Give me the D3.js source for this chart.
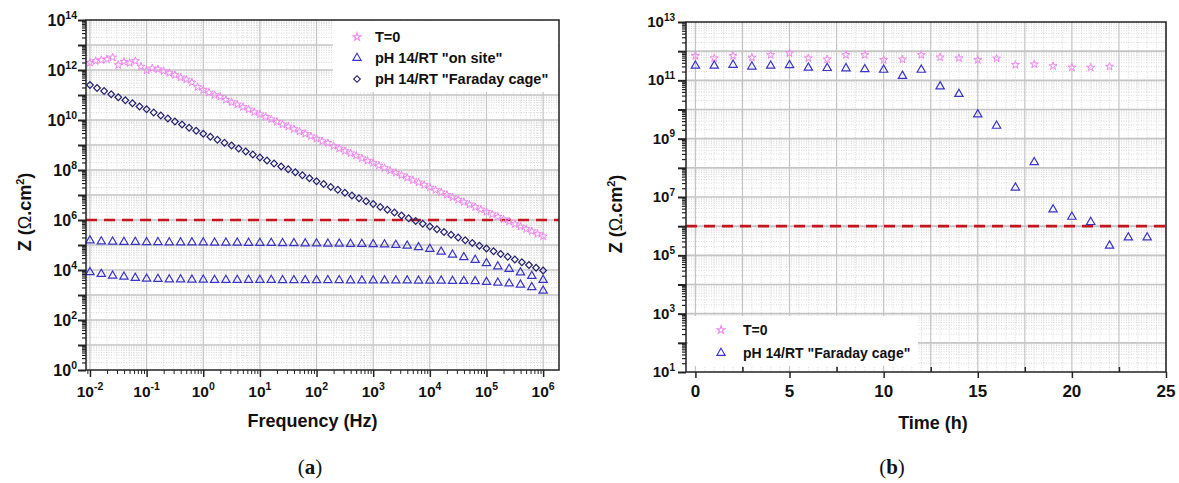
<!DOCTYPE html>
<html><head><meta charset="utf-8">
<script src="https://cdn.jsdelivr.net/npm/d3@7"></script>
<style>
html,body{margin:0;padding:0;background:#fff;}
svg{display:block;}
text{font-family:"Liberation Sans",Arial,sans-serif;font-weight:bold;fill:#111;}
</style></head>
<body>
<svg id="chart" width="1179" height="483"></svg>
<script>
// ---------------- DATA (log10 exponents) ----------------
// Panel (a): frequency exponents (Hz) and |Z| exponents (Ohm.cm2)
const freqExpStar = [-2.0,-1.9,-1.8,-1.7,-1.6,-1.5,-1.4,-1.3,-1.2,-1.1,-1.0,-0.9,-0.8,-0.7,-0.6,-0.5,-0.4,-0.3,-0.2,-0.1,
  0.0,0.1,0.2,0.3,0.4,0.5,0.6,0.7,0.8,0.9,1.0,1.1,1.2,1.3,1.4,1.5,1.6,1.7,1.8,1.9,
  2.0,2.1,2.2,2.3,2.4,2.5,2.6,2.7,2.8,2.9,3.0,3.1,3.2,3.3,3.4,3.5,3.6,3.7,3.8,3.9,
  4.0,4.1,4.2,4.3,4.4,4.5,4.6,4.7,4.8,4.9,5.0,5.1,5.2,5.3,5.4,5.5,5.6,5.7,5.8,5.9,6.0];
const zExpT0 = [12.29,12.36,12.40,12.43,12.50,12.20,12.33,12.28,12.36,12.14,11.98,12.07,12.03,11.96,11.88,11.80,11.70,11.62,11.50,11.32,
  11.20,11.10,11.00,10.93,10.81,10.71,10.62,10.52,10.42,10.32,10.23,10.13,10.03,9.93,9.82,9.74,9.64,9.54,9.45,9.35,
  9.25,9.15,9.08,8.96,8.86,8.76,8.67,8.57,8.47,8.37,8.28,8.18,8.08,7.98,7.89,7.79,7.69,7.59,7.50,7.40,
  7.30,7.20,7.11,7.01,6.91,6.81,6.72,6.62,6.52,6.42,6.33,6.23,6.13,6.03,5.94,5.84,5.74,5.64,5.55,5.45,5.35];

const freqExpCage = [-2.000,-1.875,-1.750,-1.625,-1.500,-1.375,-1.250,-1.125,-1.000,-0.875,-0.750,-0.625,-0.500,-0.375,-0.250,-0.125,
  0.000,0.125,0.250,0.375,0.500,0.625,0.750,0.875,1.000,1.125,1.250,1.375,1.500,1.625,1.750,1.875,
  2.000,2.125,2.250,2.375,2.500,2.625,2.750,2.875,3.000,3.125,3.250,3.375,3.500,3.625,3.750,3.875,
  4.000,4.125,4.250,4.375,4.500,4.625,4.750,4.875,5.000,5.125,5.250,5.375,5.500,5.625,5.750,5.875,6.000];
const zExpCage = [11.40,11.28,11.16,11.03,10.91,10.79,10.67,10.54,10.43,10.30,10.18,10.06,9.94,9.82,9.69,9.57,
  9.45,9.33,9.21,9.09,8.98,8.86,8.74,8.62,8.50,8.38,8.26,8.14,8.03,7.91,7.79,7.67,
  7.55,7.44,7.32,7.21,7.09,6.98,6.87,6.75,6.64,6.52,6.41,6.30,6.18,6.07,5.96,5.85,
  5.74,5.63,5.52,5.41,5.30,5.19,5.08,4.97,4.86,4.75,4.64,4.53,4.42,4.31,4.20,4.09,3.98];

const freqExpSite = [-2.0,-1.8,-1.6,-1.4,-1.2,-1.0,-0.8,-0.6,-0.4,-0.2,0.0,0.2,0.4,0.6,0.8,1.0,1.2,1.4,1.6,1.8,
  2.0,2.2,2.4,2.6,2.8,3.0,3.2,3.4,3.6,3.8,4.0,4.2,4.4,4.6,4.8,5.0,5.2,5.4,5.6,5.8,6.0];
const zExpSiteHigh = [5.18,5.14,5.13,5.12,5.12,5.11,5.11,5.10,5.10,5.10,5.10,5.09,5.09,5.09,5.08,5.08,5.08,5.07,5.07,5.06,
  5.06,5.05,5.05,5.04,5.04,5.03,5.02,5.00,4.97,4.91,4.84,4.73,4.61,4.51,4.40,4.27,4.14,4.04,3.90,3.76,3.60];
const zExpSiteLow = [3.91,3.84,3.77,3.73,3.68,3.65,3.64,3.62,3.62,3.61,3.61,3.60,3.60,3.60,3.60,3.60,3.60,3.59,3.59,3.59,
  3.59,3.59,3.59,3.58,3.58,3.58,3.58,3.58,3.58,3.57,3.57,3.57,3.56,3.56,3.55,3.52,3.49,3.46,3.41,3.31,3.17];

// Panel (b): time (h) and |Z| exponents
const timeT0 = [0,1,2,3,4,5,6,7,8,9,10,11,12,13,14,15,16,17,18,19,20,21,22];
const zExpT0Time = [11.84,11.76,11.84,11.78,11.87,11.93,11.76,11.72,11.87,11.87,11.70,11.72,11.87,11.79,11.76,11.70,11.75,11.53,11.55,11.49,11.44,11.44,11.47];
const timeCage = [0,1,2,3,4,5,6,7,8,9,10,11,12,13,14,15,16,17,18,19,20,21,22,23,24];
const zExpCageTime = [11.50,11.50,11.53,11.47,11.50,11.52,11.43,11.42,11.41,11.38,11.36,11.15,11.36,10.79,10.53,9.83,9.44,7.32,8.19,6.57,6.32,6.14,5.33,5.61,5.61];

const thresholdZ = 1e6;
const legendA = ['T=0','pH 14/RT "on site"','pH 14/RT "Faraday cage"'];
const legendB = ['T=0','pH 14/RT "Faraday cage"'];
const yTickExpA = [0,2,4,6,8,10,12,14];
const xTickExpA = [-2,-1,0,1,2,3,4,5,6];
const yTickExpB = [1,3,5,7,9,11,13];
const xTicksB = [0,5,10,15,20,25];

// ---------------- STYLE ----------------
const C_STAR = '#ef86ef', C_TRI = '#3a34c8', C_DIA = '#23206e', C_RED = '#c4161c';
const svg = d3.select('#chart');
const p10 = e => Math.pow(10, e);

function symbolPath(type, size){ return d3.symbol().type(type).size(size)(); }
const STAR = symbolPath(d3.symbolStar, 20);
const TRI = symbolPath(d3.symbolTriangle, 30);
const DIA = symbolPath(d3.symbolSquare, 22);

function drawMarks(g, xs, ys, xScale, yScale, path, color, rot, sw){
  g.append('g').selectAll('path').data(xs.map((x,i)=>[x,ys[i]])).join('path')
    .attr('d', path)
    .attr('transform', d => `translate(${xScale(d[0])},${yScale(d[1])})` + (rot ? ` rotate(${rot})` : ''))
    .attr('fill', 'none').attr('stroke', color).attr('stroke-width', sw || 1.2);
}

function supLabel(g, x, y, base, exp, anchor, size, supSize){
  const t = g.append('text').attr('x', x).attr('y', y).attr('text-anchor', anchor)
    .style('font-size', size + 'px');
  t.append('tspan').text(base);
  t.append('tspan').attr('dy', -size*0.42).style('font-size', supSize + 'px').text(exp);
}

// ============ PANEL A ============
{
  const L = 86, R = 559, T = 20, B = 370;
  const x = d3.scaleLog().domain([p10(-2.07), p10(6.28)]).range([L, R]);
  const y = d3.scaleLog().domain([1, 1e14]).range([B, T]);
  const g = svg.append('g');
  const grid = g.append('g');
  for (let k = -3; k <= 6; k++) for (let m = 2; m <= 9; m++) {
    const v = m * p10(k); if (v < x.domain()[0] || v > x.domain()[1]) continue;
    grid.append('line').attr('x1', x(v)).attr('x2', x(v)).attr('y1', T).attr('y2', B)
      .attr('stroke', '#cfcfcf').attr('stroke-width', 0.8).attr('stroke-dasharray', '1,1.5');
  }
  for (let k = 0; k < 14; k++) for (let m = 2; m <= 9; m++) {
    const v = m * p10(k);
    grid.append('line').attr('y1', y(v)).attr('y2', y(v)).attr('x1', L).attr('x2', R)
      .attr('stroke', '#cfcfcf').attr('stroke-width', 0.8).attr('stroke-dasharray', '1,1.5');
  }
  for (let k = -2; k <= 6; k++)
    grid.append('line').attr('x1', x(p10(k))).attr('x2', x(p10(k))).attr('y1', T).attr('y2', B)
      .attr('stroke', '#c4c4c4').attr('stroke-width', 1.2);
  for (let k = 1; k < 14; k++)
    grid.append('line').attr('y1', y(p10(k))).attr('y2', y(p10(k))).attr('x1', L).attr('x2', R)
      .attr('stroke', '#c4c4c4').attr('stroke-width', 1.6);

  g.append('rect').attr('x', 333).attr('y', T + 1).attr('width', R - 333 - 1).attr('height', 71).attr('fill', '#fff');

  g.append('line').attr('x1', L).attr('x2', R).attr('y1', y(thresholdZ)).attr('y2', y(thresholdZ))
    .attr('stroke', C_RED).attr('stroke-width', 2.6).attr('stroke-dasharray', '11,7');

  drawMarks(g, freqExpStar.map(p10), zExpT0.map(p10), x, y, STAR, C_STAR, 0, 1);
  drawMarks(g, freqExpCage.map(p10), zExpCage.map(p10), x, y, DIA, C_DIA, 45);
  drawMarks(g, freqExpSite.map(p10), zExpSiteHigh.map(p10), x, y, TRI, C_TRI);
  drawMarks(g, freqExpSite.map(p10), zExpSiteLow.map(p10), x, y, TRI, C_TRI);

  g.append('rect').attr('x', L).attr('y', T).attr('width', R - L).attr('height', B - T)
    .attr('fill', 'none').attr('stroke', '#222').attr('stroke-width', 1.5);

  const minorX = [], minorY = [];
  for (let k = -3; k <= 6; k++) for (let m = 2; m <= 9; m++) { const v = m * p10(k); if (v >= x.domain()[0] && v <= x.domain()[1]) minorX.push(v); }
  for (let k = 0; k < 14; k++) for (let m = 2; m <= 9; m++) minorY.push(m * p10(k));
  const majY = d3.range(0, 15).map(p10);
  g.append('g').attr('transform', `translate(${L},0)`).call(d3.axisLeft(y).tickValues(majY).tickSize(8).tickFormat('')).call(a => a.select('.domain').remove()).selectAll('line').attr('stroke', '#222').attr('stroke-width', 2);
  g.append('g').attr('transform', `translate(${L},0)`).call(d3.axisLeft(y).tickValues(minorY).tickSize(4).tickFormat('')).call(a => a.select('.domain').remove()).selectAll('line').attr('stroke', '#222').attr('stroke-width', 1.2);
  g.append('g').attr('transform', `translate(0,${B})`).call(d3.axisBottom(x).tickValues(xTickExpA.map(p10)).tickSize(7).tickFormat('')).call(a => a.select('.domain').remove()).selectAll('line').attr('stroke', '#222').attr('stroke-width', 1.5);
  g.append('g').attr('transform', `translate(0,${B})`).call(d3.axisBottom(x).tickValues(minorX).tickSize(4).tickFormat('')).call(a => a.select('.domain').remove()).selectAll('line').attr('stroke', '#222').attr('stroke-width', 1);

  yTickExpA.forEach(e => supLabel(g, L - 9, y(p10(e)) + 6, '10', String(e), 'end', 16, 10.5));
  xTickExpA.forEach(e => supLabel(g, x(p10(e)), B + 27, '10', String(e), 'middle', 15.5, 10.5));

  g.append('text').attr('x', (L + R) / 2 - 10).attr('y', 427).attr('text-anchor', 'middle').style('font-size', '18px').text('Frequency (Hz)');
  const yt = g.append('text').attr('transform', `translate(31,${212}) rotate(-90)`).attr('text-anchor', 'middle').style('font-size', '18px');
  yt.append('tspan').text('Z (');
  yt.append('tspan').style('font-weight', 'normal').text('Ω');
  yt.append('tspan').text('.cm');
  yt.append('tspan').attr('dy', -7).style('font-size', '11px').text('2');
  yt.append('tspan').attr('dy', 7).text(')');
  const pa = g.append('text').attr('x', 310).attr('y', 474).attr('text-anchor', 'middle').style('font-family', '"Liberation Serif","Times New Roman",serif').style('font-size', '21px').style('font-weight', 'normal');
  pa.append('tspan').text('(');
  pa.append('tspan').style('font-weight', 'bold').text('a');
  pa.append('tspan').text(')');

  const lg = g.append('g');
  const rows = [37, 58, 79];
  const paths = [[STAR, C_STAR, 0], [TRI, C_TRI, 0], [DIA, C_DIA, 45]];
  legendA.forEach((t, i) => {
    lg.append('path').attr('d', paths[i][0]).attr('transform', `translate(357,${rows[i]})` + (paths[i][2] ? ' rotate(45)' : ''))
      .attr('fill', 'none').attr('stroke', paths[i][1]).attr('stroke-width', 1.1);
    lg.append('text').attr('x', 375).attr('y', rows[i] + 5).style('font-size', '14.5px').text(t);
  });
}

// ============ PANEL B ============
{
  const L = 686, R = 1166, T = 22, B = 372;
  const x = d3.scaleLinear().domain([-0.5, 25]).range([L, R]);
  const y = d3.scaleLog().domain([10, 1e13]).range([B, T]);
  const g = svg.append('g');
  const grid = g.append('g');
  for (let h = 0; h <= 25; h += 0.5) {
    if (h % 2.5 === 0) continue;
    grid.append('line').attr('x1', x(h)).attr('x2', x(h)).attr('y1', T).attr('y2', B)
      .attr('stroke', '#d2d2d2').attr('stroke-width', 0.8).attr('stroke-dasharray', '1,1.5');
  }
  for (let k = 1; k < 13; k++) for (let m = 2; m <= 9; m++) {
    const v = m * p10(k);
    grid.append('line').attr('y1', y(v)).attr('y2', y(v)).attr('x1', L).attr('x2', R)
      .attr('stroke', '#cfcfcf').attr('stroke-width', 0.8).attr('stroke-dasharray', '1,1.5');
  }
  for (let h = 0; h <= 25; h += 2.5)
    grid.append('line').attr('x1', x(h)).attr('x2', x(h)).attr('y1', T).attr('y2', B)
      .attr('stroke', '#c4c4c4').attr('stroke-width', 1.2);
  for (let k = 2; k < 13; k++)
    grid.append('line').attr('y1', y(p10(k))).attr('y2', y(p10(k))).attr('x1', L).attr('x2', R)
      .attr('stroke', '#c4c4c4').attr('stroke-width', 1.6);

  g.append('rect').attr('x', L + 2).attr('y', 316).attr('width', 230).attr('height', 50).attr('fill', '#fff');

  g.append('line').attr('x1', L).attr('x2', R).attr('y1', y(thresholdZ)).attr('y2', y(thresholdZ))
    .attr('stroke', C_RED).attr('stroke-width', 2.6).attr('stroke-dasharray', '11,7');

  drawMarks(g, timeT0, zExpT0Time.map(p10), x, y, STAR, C_STAR, 0, 1);
  drawMarks(g, timeCage, zExpCageTime.map(p10), x, y, TRI, C_TRI);

  g.append('rect').attr('x', L).attr('y', T).attr('width', R - L).attr('height', B - T)
    .attr('fill', 'none').attr('stroke', '#222').attr('stroke-width', 1.5);

  const minorY = [];
  for (let k = 1; k < 13; k++) for (let m = 2; m <= 9; m++) minorY.push(m * p10(k));
  g.append('g').attr('transform', `translate(${L},0)`).call(d3.axisLeft(y).tickValues(d3.range(1, 14).map(p10)).tickSize(8).tickFormat('')).call(a => a.select('.domain').remove()).selectAll('line').attr('stroke', '#222').attr('stroke-width', 2);
  g.append('g').attr('transform', `translate(${L},0)`).call(d3.axisLeft(y).tickValues(minorY).tickSize(4).tickFormat('')).call(a => a.select('.domain').remove()).selectAll('line').attr('stroke', '#222').attr('stroke-width', 1.2);
  g.append('g').attr('transform', `translate(0,${B})`).call(d3.axisBottom(x).tickValues(xTicksB).tickSize(6).tickFormat('')).call(a => a.select('.domain').remove()).selectAll('line').attr('stroke', '#222').attr('stroke-width', 1.5);
  g.append('g').attr('transform', `translate(0,${B})`).call(d3.axisTop(x).tickValues([2.5, 7.5, 12.5, 17.5, 22.5]).tickSize(5).tickFormat('')).call(a => a.select('.domain').remove()).selectAll('line').attr('stroke', '#222').attr('stroke-width', 1.5);

  yTickExpB.forEach(e => supLabel(g, L - 11, y(p10(e)) + 5, '10', String(e), 'end', 15, 10));
  xTicksB.forEach(v => g.append('text').attr('x', x(v)).attr('y', B + 25).attr('text-anchor', 'middle').style('font-size', '17px').text(v));

  g.append('text').attr('x', 933).attr('y', 429).attr('text-anchor', 'middle').style('font-size', '18px').text('Time (h)');
  const yt = g.append('text').attr('transform', `translate(622,${214}) rotate(-90)`).attr('text-anchor', 'middle').style('font-size', '18px');
  yt.append('tspan').text('Z (');
  yt.append('tspan').style('font-weight', 'normal').text('Ω');
  yt.append('tspan').text('.cm');
  yt.append('tspan').attr('dy', -7).style('font-size', '11px').text('2');
  yt.append('tspan').attr('dy', 7).text(')');
  const pb = g.append('text').attr('x', 892).attr('y', 474).attr('text-anchor', 'middle').style('font-family', '"Liberation Serif","Times New Roman",serif').style('font-size', '21px').style('font-weight', 'normal');
  pb.append('tspan').text('(');
  pb.append('tspan').style('font-weight', 'bold').text('b');
  pb.append('tspan').text(')');

  const lg = g.append('g');
  const rows = [330, 353];
  const paths = [[STAR, C_STAR], [TRI, C_TRI]];
  legendB.forEach((t, i) => {
    lg.append('path').attr('d', paths[i][0]).attr('transform', `translate(721,${rows[i]})`)
      .attr('fill', 'none').attr('stroke', paths[i][1]).attr('stroke-width', 1.1);
    lg.append('text').attr('x', 743).attr('y', rows[i] + 5).style('font-size', '14px').text(t);
  });
}
</script>
</body></html>
